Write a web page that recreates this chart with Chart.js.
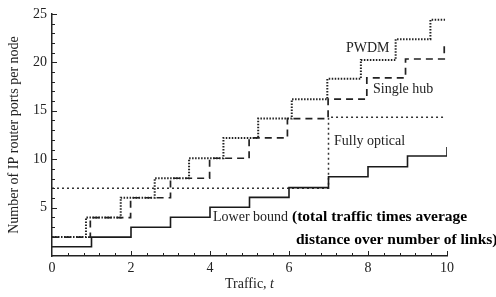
<!DOCTYPE html>
<html>
<head>
<meta charset="utf-8">
<script src="https://cdn.jsdelivr.net/npm/chart.js@4.4.0/dist/chart.umd.min.js"></script>
<style>
  html, body { margin: 0; padding: 0; background: #fff; }
  #wrap { position: relative; width: 496px; height: 297px; }
</style>
</head>
<body>
<div id="wrap"><canvas id="chart" width="496" height="297"></canvas></div>
<script>
// step breakpoints (traffic t) and levels
const pwdmT  = [0, 0.86, 1.74, 2.6, 3.47, 4.34, 5.22, 6.07, 6.97, 7.82, 8.7, 9.58, 9.95];
const pwdmY  = [1.95, 3.97, 6.02, 8.03, 10.1, 12.2, 14.2, 16.2, 18.3, 20.25, 22.4, 24.4, 24.4];

const hubT   = [0, 0.97, 1.99, 3.0, 3.99, 4.99, 5.96, 6.99, 7.97, 8.95, 9.93];
const hubY   = [1.95, 3.97, 6.02, 8.03, 10.1, 12.2, 14.2, 16.2, 18.4, 20.35, 22.0];

const opticalT = [0, 7, 9.95];
const opticalY = [7.0, 14.33, 14.33];

const lowerT = [0, 1, 2, 3, 4, 5, 6, 7, 8, 9, 10];
const lowerY = [0.95, 1.95, 2.97, 4.0, 5.03, 6.06, 7.06, 8.19, 9.22, 10.33, 11.25];

const xTickLabels = [0, 2, 4, 6, 8, 10];
const yTickLabels = [5, 10, 15, 20, 25];

const SERIF = "'Liberation Serif', 'Times New Roman', serif";

function pts(ts, ys) {
  return ts.map((t, i) => ({ x: t, y: ys[i] }));
}

function stepSet(ts, ys, color, width, dash) {
  return {
    data: pts(ts, ys),
    stepped: true,
    borderColor: color,
    borderWidth: width,
    borderDash: dash,
    pointRadius: 0,
    fill: false
  };
}

// inward ticks, axis titles and curve labels
const decor = {
  id: "decor",
  afterDraw(chart) {
    const { ctx, scales: { x, y } } = chart;
    ctx.save();
    ctx.strokeStyle = "#222";
    ctx.lineWidth = 1;
    ctx.beginPath();
    for (let v = 1; v <= 25; v++) {
      const py = Math.round(y.getPixelForValue(v)) + 0.5;
      const len = v % 5 === 0 ? 5 : 3;
      ctx.moveTo(x.left, py);
      ctx.lineTo(x.left + len, py);
    }
    for (let i = 1; i <= 25; i++) {
      const px = Math.round(x.getPixelForValue(i * 0.4)) + 0.5;
      const len = i % 5 === 0 ? 5 : 3;
      ctx.moveTo(px, y.bottom);
      ctx.lineTo(px, y.bottom - len);
    }
    ctx.stroke();

    ctx.fillStyle = "#222";
    ctx.textBaseline = "middle";
    ctx.textAlign = "left";

    // y title
    ctx.save();
    ctx.translate(14, 135);
    ctx.rotate(-Math.PI / 2);
    ctx.textAlign = "center";
    ctx.font = `14px ${SERIF}`;
    ctx.fillText("Number of IP router ports per node", 0, 0);
    ctx.restore();

    // x title with italic t
    ctx.font = `14px ${SERIF}`;
    const a = "Traffic, ";
    const wa = ctx.measureText(a).width;
    ctx.fillText(a, 225, 284);
    ctx.font = `italic 14px ${SERIF}`;
    ctx.fillText("t", 225 + wa, 284);

    ctx.font = `14px ${SERIF}`;
    ctx.fillText("PWDM", 346, 48);
    ctx.fillText("Single hub", 373, 89);
    ctx.fillText("Fully optical", 334, 141);
    ctx.fillText("Lower bound", 213, 217);

    ctx.fillStyle = "#000";
    ctx.font = `bold 15.5px ${SERIF}`;
    ctx.fillText("(total traffic times average", 292, 217);
    ctx.fillText("distance over number of links)", 296, 240);
    ctx.restore();
  }
};

new Chart(document.getElementById("chart"), {
  type: "line",
  data: {
    datasets: [
      stepSet(lowerT, lowerY, "#1a1a1a", 1.6, []),
      stepSet(pwdmT, pwdmY, "#222", 2, [1.5, 1.5]),
      stepSet(hubT, hubY, "#222", 1.7, [7, 5]),
      stepSet(opticalT, opticalY, "#333", 1.5, [2, 3])
    ]
  },
  options: {
    responsive: false,
    devicePixelRatio: 1,
    animation: false,
    layout: { padding: { top: 14, right: 49, left: 0, bottom: 0 } },
    plugins: { legend: { display: false }, tooltip: { enabled: false } },
    scales: {
      x: {
        type: "linear",
        min: 0, max: 10,
        grid: { display: false, drawTicks: false },
        border: { display: true, color: "#222", width: 1.5 },
        ticks: {
          stepSize: 2,
          padding: 4,
          color: "#222",
          font: { family: SERIF, size: 14 },
          callback: v => xTickLabels.includes(v) ? String(v) : ""
        },
        afterFit: s => { s.height = 41; }
      },
      y: {
        min: 0, max: 25,
        grid: { display: false, drawTicks: false },
        border: { display: true, color: "#222", width: 1.5 },
        ticks: {
          stepSize: 5,
          padding: 5,
          color: "#222",
          font: { family: SERIF, size: 14 },
          callback: v => yTickLabels.includes(v) ? String(v) : ""
        },
        afterFit: s => { s.width = 52; }
      }
    }
  },
  plugins: [decor]
});
</script>
</body>
</html>
